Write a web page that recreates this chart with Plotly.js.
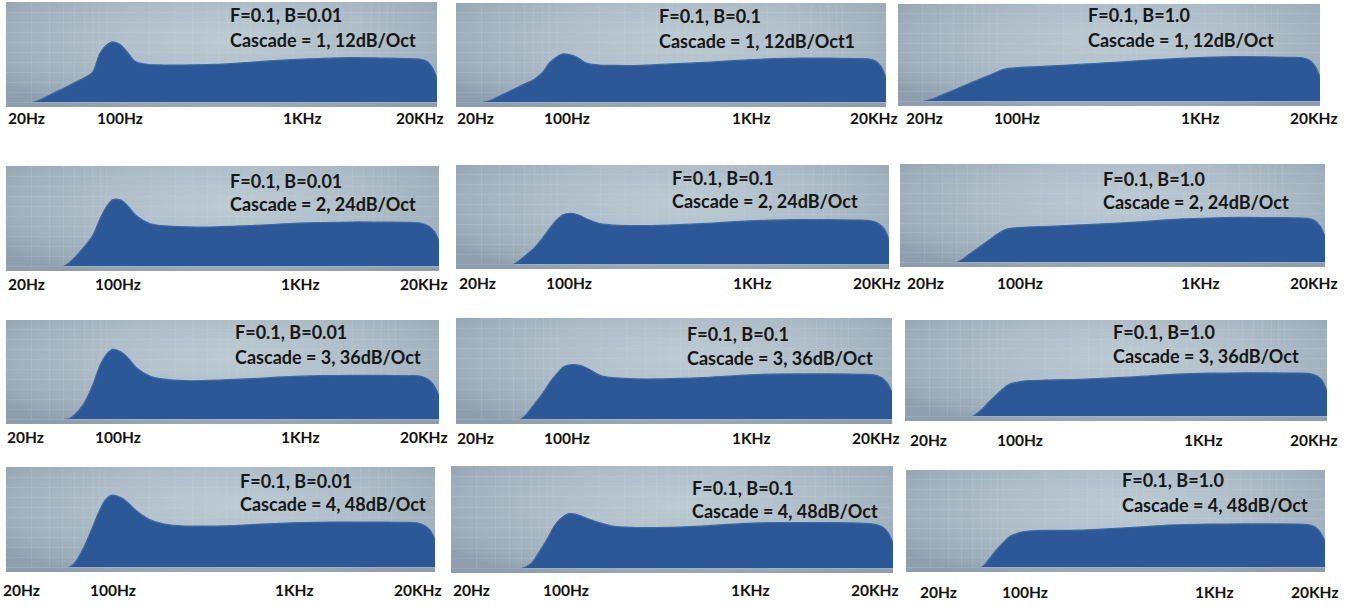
<!DOCTYPE html>
<html><head><meta charset="utf-8">
<script src="https://cdn.plot.ly/plotly-3.0.1.min.js"></script>
<style>html,body{margin:0;padding:0;background:#fff;overflow:hidden}#chart{width:1351px;height:607px}</style>
</head><body><div id="chart"></div>
<script>
// ---------- DATA ----------
const freqHz = [20,25,30,35,40,45,50,55,60,70,80,90,100,110,125,140,160,200,250,350,500,700,1000,1500,2000,3000,5000,8000,12000,15000,17000,18500,20000];
// response level, % of panel height above the baseline
const c1_b001 = [0,0,0,3,7.1,10.8,14,17,19.7,24.5,30,48.8,57,60.3,57.5,50,40.5,37.8,37.3,37.3,37.7,38.5,40,41.8,42.7,43.7,44.6,44.3,43.8,43.3,41,35,24];
const c1_b01  = [0,0,0,2.3,6.3,9.8,13,15.8,18.5,23.2,30,40,45.5,48.7,48,45.5,40,37.7,37.3,37.2,38,39,40,41.5,42.5,43.8,44.5,44.6,44.2,43.8,41.5,36,24.5];
const c1_b10  = [0,0,0,2.5,6,9.1,11.8,14.4,16.6,20.7,24.2,27.2,30,32.5,34.2,34.7,35.2,35.8,36.5,37.6,39,40.2,41.6,43.3,44.3,45.2,46.1,45.8,45.3,44.8,42,36,25];
const c2_b001 = [0,0,0,0,0,0,0.2,4,9,20,31,48,60,66.5,66,60,50.5,42.5,40.5,39.5,39.2,40,40.7,42,43,43.7,44.3,44.2,44,43,40,35,25.7];
const c2_b01  = [0,0,0,0,0,0,0.2,4,8.5,17,27,37,45,50,51.5,50,46,41,39.5,39,39.3,40,41,42.5,43.5,44.5,45,45,44.7,44,41,36,25];
const c2_b10  = [0,0,0,0,0,0,0,3,7,14,20,25.5,30,33.3,34.9,35.5,36,36.5,37,38,39,40,41.3,43.2,44.3,45.2,45.8,45.6,45.3,44.8,42.5,37,26.4];
const c3_b001 = [0,0,0,0,0,0,0,1,5,17,35,55,66,70.5,68,62,52,43.5,40.5,39,39.3,40,41,42.5,43.3,44,44.3,44.3,44,43.5,40,34,24];
const c3_b01  = [0,0,0,0,0,0,0,0,4,16,27,38,46,52,54,53.5,50.5,43,41,40,40,40.5,41.3,42.8,43.8,44.7,44.9,44.9,44.6,44,41,36,27];
const c3_b10  = [0,0,0,0,0,0,0,0,0,7,16,23,29,33.3,35.5,36.7,37.2,37.7,38,38.5,39.5,40.5,41.8,43.5,44.3,44.9,45.2,45.2,45,44.5,42,37,26.4];
const c4_b001 = [0,0,0,0,0,0,0,0.2,4,20,39,56.5,68,72,70,65.5,57.5,48,43.5,41.3,41.2,41.5,42.5,43.7,44.5,45,45.2,45.2,45,44.4,41.5,37,28];
const c4_b01  = [0,0,0,0,0,0,0,0,0,5,17,29,41,48,53.3,53,50,45,41.3,40,40,40.3,41.3,43,44,44.7,44.7,44.7,44.2,43.2,40.5,35,25];
const c4_b10  = [0,0,0,0,0,0,0,0,0,0.5,10,19,26,31.5,35,36.8,37.6,38,38.1,38.3,39.3,40.5,41.8,43.5,44.1,44.5,44.7,44.7,44.6,44,41.5,36,27];

const filterLabels = ["F=0.1, B=0.01","F=0.1, B=0.1","F=0.1, B=1.0"];
const cascadeLabels = [
  ["Cascade = 1, 12dB/Oct","Cascade = 1, 12dB/Oct1","Cascade = 1, 12dB/Oct"],
  ["Cascade = 2, 24dB/Oct","Cascade = 2, 24dB/Oct","Cascade = 2, 24dB/Oct"],
  ["Cascade = 3, 36dB/Oct","Cascade = 3, 36dB/Oct","Cascade = 3, 36dB/Oct"],
  ["Cascade = 4, 48dB/Oct","Cascade = 4, 48dB/Oct","Cascade = 4, 48dB/Oct"]
];
const freqTickLabels = ["20Hz","100Hz","1KHz","20KHz"];
const series = [c1_b001,c1_b01,c1_b10,c2_b001,c2_b01,c2_b10,c3_b001,c3_b01,c3_b10,c4_b001,c4_b01,c4_b10];

// ---------- LAYOUT (pixel boxes of each screenshot panel) ----------
const W = 1351, H = 607;
// [left, right, top, bottom]
const boxes = [
  [6,437,2,107],[456,886,3,107],[898,1320,4,106],
  [6,439,166,271],[456,889,165,269],[900,1325,164,267],
  [6,439,320,424],[456,892,318,424],[905,1327,320,421],
  [6,435,467,572],[451,893,466,573],[906,1325,470,572]
];
const bandPx = 4.5;
// label text positions [x of text left, y of first line, y of second line]
const textPos = [
  [228,15,40],[657,16,41],[1086,15,40],
  [228,181,204],[670,178,201],[1101,179,202],
  [233,332,357],[685,334,358],[1111,332,356],
  [238,481,504],[690,488,511],[1120,480,505]
];
// centres of the frequency labels [x20, x100, x1k, x20k, y]
const hzPos = [
  [26,120,302,420,118],[475,567,751,874,118],[924,1017,1200,1314,118],
  [26,118,300,424,284],[477,569,752,877,283],[925,1020,1200,1314,283],
  [25,118,300,424,437],[476,567,751,876,438],[929,1020,1203,1314,440],
  [21,113,294,418,590],[471,566,750,875,590],[938,1025,1214,1315,592]
];

function makeBg(){
  const c = document.createElement('canvas');
  c.width = 400; c.height = 100;
  const g = c.getContext('2d');
  g.save();
  g.scale(1, 0.3);
  const grd = g.createRadialGradient(210, 120, 10, 210, 120, 260);
  grd.addColorStop(0, '#bccad3');
  grd.addColorStop(0.5, '#adbcc7');
  grd.addColorStop(0.85, '#9cadb9');
  grd.addColorStop(1, '#909fad');
  g.fillStyle = grd;
  g.fillRect(0, 0, 400, 334);
  g.restore();
  return c.toDataURL('image/png');
}
const bg = makeBg();

const gridFreqs = [20,30,40,50,60,70,80,90,100,200,300,400,500,600,700,800,900,1000,2000,3000,4000,5000,6000,7000,8000,9000,10000,20000];
const data = [], images = [], shapes = [], annotations = [];
const layout = {
  width: W, height: H, margin: {l:0,r:0,t:0,b:0},
  paper_bgcolor: '#ffffff', plot_bgcolor: 'rgba(0,0,0,0)', showlegend: false
};
const txtFont = {family: 'Lato, "Open Sans", sans-serif', size: 18, color: '#161616', weight: 'bold'};
const hzFont = {family: 'Lato, "Open Sans", sans-serif', size: 15.5, color: '#111', weight: 'bold'};
const gridCol = 'rgba(225,234,241,0.12)';

boxes.forEach((b, i) => {
  const k = i + 1;
  const [l, r, t, bot] = b;
  const base = bot - bandPx;
  const xa = 'xaxis' + (k === 1 ? '' : k), ya = 'yaxis' + (k === 1 ? '' : k);
  const xr = 'x' + (k === 1 ? '' : k), yr = 'y' + (k === 1 ? '' : k);
  layout[xa] = {type:'log', range:[Math.log10(20), Math.log10(20000)], domain:[l/W, r/W], anchor: yr,
    showticklabels:false, ticks:'', tickvals: gridFreqs, showgrid:true, gridcolor: gridCol, gridwidth:1,
    zeroline:false, showline:false, fixedrange:true};
  layout[ya] = {range:[0,100], domain:[1 - base/H, 1 - t/H], anchor: xr, showticklabels:false, ticks:'',
    dtick:10, showgrid:true, gridcolor: gridCol, gridwidth:1, zeroline:false, showline:false, fixedrange:true};
  data.push({type:'scatter', mode:'lines', x: freqHz, y: series[i], xaxis: xr, yaxis: yr,
    fill:'tozeroy', fillcolor:'#2c5897', line:{color:'#3c68a6', width:1.2, shape:'spline', smoothing:0.9},
    hoverinfo:'skip'});
  images.push({source: bg, xref:'paper', yref:'paper', x: l/W, y: 1 - t/H, sizex: (r-l)/W, sizey: (bot-t)/H,
    xanchor:'left', yanchor:'top', sizing:'stretch', layer:'below'});
  // axis strip at the bottom of each panel
  shapes.push({type:'rect', xref:'paper', yref:'paper', x0: l/W, x1: r/W, y0: 1 - bot/H, y1: 1 - base/H,
    fillcolor:'rgba(140,158,172,0.35)', line:{width:0}, layer:'below'});
  shapes.push({type:'line', xref:'paper', yref:'paper', x0: l/W, x1: r/W, y0: 1 - base/H, y1: 1 - base/H,
    line:{color:'rgba(190,202,212,0.55)', width:1}});
  const row = Math.floor(i/3), col = i % 3;
  const tp = textPos[i];
  annotations.push({xref:'paper', yref:'paper', x: tp[0]/W, y: 1 - tp[1]/H, xanchor:'left', yanchor:'middle',
    text: filterLabels[col], showarrow:false, font: txtFont});
  annotations.push({xref:'paper', yref:'paper', x: tp[0]/W, y: 1 - tp[2]/H, xanchor:'left', yanchor:'middle',
    text: cascadeLabels[row][col], showarrow:false, font: txtFont});
  const hp = hzPos[i];
  freqTickLabels.forEach((lab, j) => {
    annotations.push({xref:'paper', yref:'paper', x: hp[j]/W, y: 1 - hp[4]/H, xanchor:'center', yanchor:'middle',
      text: lab, showarrow:false, font: hzFont});
  });
});
layout.images = images; layout.shapes = shapes; layout.annotations = annotations;
Plotly.newPlot('chart', data, layout, {displayModeBar:false, staticPlot:true});
</script>
</body></html>
